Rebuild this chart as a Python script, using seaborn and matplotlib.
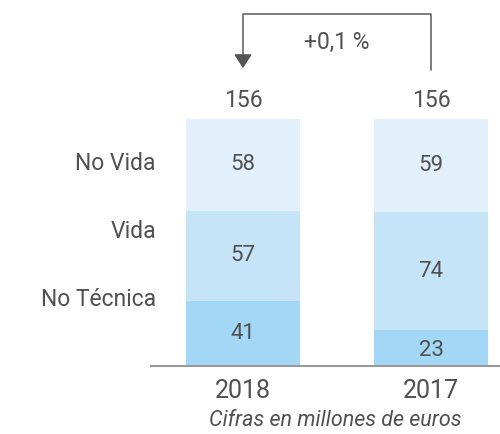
import matplotlib
matplotlib.use("Agg")
import matplotlib.pyplot as plt
import seaborn as sns
import numpy as np

years = ["2018", "2017"]
categories = ["No Técnica", "Vida", "No Vida"]
no_tecnica = [41, 23]
vida = [57, 74]
no_vida = [58, 59]
totals = [156, 156]
change_label = "+0,1 %"
note = "Cifras en millones de euros"

colors = ["#a3d7f6", "#c5e4f8", "#e1f0fb"]
txt = "#505050"

sns.set_theme(style="white")
plt.rcParams["font.family"] = ["Roboto", "DejaVu Sans"]
W = "normal"

fig = plt.figure(figsize=(5.0, 4.34), dpi=100)
ax = fig.add_axes([0, 0, 1, 1])

layers = [no_tecnica, vida, no_vida]
cums = np.cumsum(np.array(layers), axis=0)
bw = 114 / 188
for i in range(len(layers) - 1, -1, -1):
    sns.barplot(x=years, y=cums[i], order=years, color=colors[i],
                saturation=1, width=bw, ax=ax, linewidth=0)

px = 1.583
ax.set_xlim(-243 / 188, (500 - 243) / 188)
ax.set_ylim(-(434 - 366) / px, 366 / px)
ax.axis("off")

# baseline
x_left = -1.2926 + 150 / 188
ax.plot([x_left, 1.37], [0, 0], color="#999999", lw=1.5, solid_capstyle="butt")

# values inside segments
for j in range(len(years)):
    bottoms = [0] + list(cums[:-1, j])
    for i, layer in enumerate(layers):
        yc = bottoms[i] + layer[j] / 2
        if layer[j] < 30:
            yc = bottoms[i] + layer[j] / 2 - 1.5
        ax.text(j, yc, str(layer[j]), ha="center", va="center",
                fontsize=16, color=txt, fontweight=W)
    ax.text(j, totals[j] + 12, str(totals[j]), ha="center", va="center",
            fontsize=16.5, color=txt, fontweight=W)
    ax.text(j, -15.5, years[j], ha="center", va="center", fontsize=18,
            color=txt, fontweight=W)

# category labels on left
lab_x = -1.2926 + 156 / 188
lab_y = [(366 - 300) / px, (366 - 232) / px, (366 - 164) / px]
for c, yv in zip(categories, lab_y):
    ax.text(lab_x, yv, c, ha="right", va="center", fontsize=16.5, color=txt,
            fontweight=W)

# bracket arrow
top_y = (366 - 14) / px
right_bottom = (366 - 70) / px
arrow_tip = (366 - 71) / px
ax.plot([1, 1, 0, 0], [right_bottom, top_y, top_y, arrow_tip + 5],
        color="#666666", lw=1.2)
ax.annotate("", xy=(0, arrow_tip), xytext=(0, arrow_tip + 6),
            arrowprops=dict(arrowstyle="-|>,head_width=0.45,head_length=0.7",
                            color="#555555", lw=1.2))
ax.text(0.5, (366 - 42) / px, change_label, ha="center", va="center",
        fontsize=16.5, color=txt, fontweight=W)

ax.text(0.49, -34.5, note, ha="center", va="center", fontsize=15.5,
        color=txt, style="italic", fontweight=W)

fig.savefig("out.png", dpi=100)
